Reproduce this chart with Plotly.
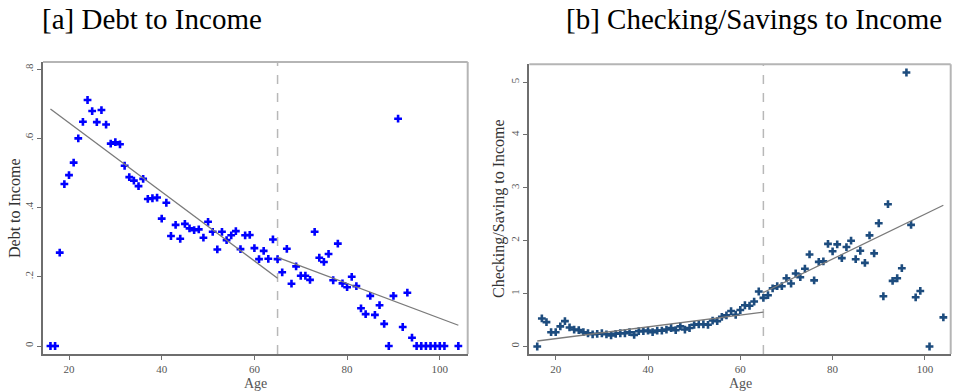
import plotly.graph_objects as go

# ---------------- data ----------------
debt_age = [16, 17, 18, 19, 20, 21, 22, 23, 24, 25, 26, 27, 28, 29, 30, 31, 32, 33, 34, 35,
            36, 37, 38, 39, 40, 41, 42, 43, 44, 45, 46, 47, 48, 49, 50, 51, 52, 53, 54, 55,
            56, 57, 58, 59, 60, 61, 62, 63, 64, 65, 66, 67, 68, 69, 70, 71, 72, 73, 74, 75,
            76, 77, 78, 79, 80, 81, 82, 83, 84, 85, 86, 87, 88, 89, 90, 91, 92, 93, 94, 95,
            96, 97, 98, 99, 100, 101, 104]
debt_val = [0.0, 0.0, 0.27, 0.468, 0.494, 0.53, 0.60, 0.648, 0.711, 0.679, 0.647, 0.682, 0.64,
            0.585, 0.589, 0.583, 0.521, 0.488, 0.478, 0.462, 0.483, 0.425, 0.427, 0.429, 0.368,
            0.414, 0.318, 0.350, 0.31, 0.353, 0.340, 0.335, 0.337, 0.313, 0.359, 0.33, 0.279,
            0.33, 0.306, 0.32, 0.332, 0.28, 0.32, 0.321, 0.283, 0.251, 0.275, 0.252, 0.308,
            0.251, 0.213, 0.281, 0.18, 0.23, 0.203, 0.203, 0.191, 0.33, 0.255, 0.243, 0.266,
            0.19, 0.296, 0.181, 0.17, 0.2, 0.173, 0.109, 0.092, 0.145, 0.09, 0.118, 0.064, 0.0,
            0.145, 0.657, 0.055, 0.154, 0.024, 0.0, 0.0, 0.0, 0.0, 0.0, 0.0, 0.0, 0.0]
debt_fit_pre_age = [16, 65]
debt_fit_pre_val = [0.685, 0.196]
debt_fit_post_age = [65, 104]
debt_fit_post_val = [0.256, 0.06]

cs_age = list(range(16, 100)) + [101, 104]
cs_val = [0.0, 0.53, 0.46, 0.27, 0.27, 0.38, 0.48, 0.36, 0.32, 0.31, 0.27, 0.25, 0.23, 0.24,
          0.25, 0.23, 0.21, 0.24, 0.25, 0.25, 0.27, 0.22, 0.29, 0.29, 0.30, 0.27, 0.30, 0.30,
          0.32, 0.35, 0.31, 0.38, 0.32, 0.35, 0.41, 0.42, 0.42, 0.41, 0.49, 0.48, 0.56, 0.59,
          0.67, 0.60, 0.69, 0.78, 0.77, 0.85, 1.04, 0.92, 0.97, 1.10, 1.14, 1.14, 1.29, 1.19,
          1.38, 1.31, 1.47, 1.74, 1.25, 1.60, 1.61, 1.94, 1.80, 1.93, 1.67, 1.88, 2.00, 1.65,
          1.81, 1.58, 2.10, 1.76, 2.33, 0.95, 2.69, 1.24, 1.29, 1.48, 5.18, 2.30, 0.93, 1.05,
          0.0, 0.55]
cs_fit_pre_age = [16, 65]
cs_fit_pre_val = [0.104, 0.65]
cs_fit_post_age = [65, 104]
cs_fit_post_val = [1.02, 2.67]

cutoff_age = 65
x_ticks = [20, 40, 60, 80, 100]
debt_ticks = [0, 0.2, 0.4, 0.6, 0.8]
debt_tick_text = ["0", ".2", ".4", ".6", ".8"]
cs_ticks = [0, 1, 2, 3, 4, 5]
cs_tick_text = ["0", "1", "2", "3", "4", "5"]

titles = ["[a] Debt to Income", "[b] Checking/Savings to Income"]
ytitles = ["Debt to Income", "Checking/Saving to Income"]
xtitle = "Age"

# ---------------- figure ----------------
W, H = 953, 391
SERIF = "Liberation Serif, Times New Roman, serif"
fig = go.Figure()

fit_line = dict(color="#7a7a7a", width=1.3)

fig.add_trace(go.Scatter(x=debt_age, y=debt_val, mode="markers", xaxis="x", yaxis="y",
                         marker=dict(symbol="cross", size=6.5, color="#0000ff", line=dict(width=0)),
                         showlegend=False))
fig.add_trace(go.Scatter(x=debt_fit_pre_age, y=debt_fit_pre_val, mode="lines", xaxis="x", yaxis="y",
                         line=fit_line, showlegend=False))
fig.add_trace(go.Scatter(x=debt_fit_post_age, y=debt_fit_post_val, mode="lines", xaxis="x", yaxis="y",
                         line=fit_line, showlegend=False))

fig.add_trace(go.Scatter(x=cs_age, y=cs_val, mode="markers", xaxis="x2", yaxis="y2",
                         marker=dict(symbol="cross", size=6.5, color="#1d4c7e", line=dict(width=0)),
                         showlegend=False))
fig.add_trace(go.Scatter(x=cs_fit_pre_age, y=cs_fit_pre_val, mode="lines", xaxis="x2", yaxis="y2",
                         line=fit_line, showlegend=False))
fig.add_trace(go.Scatter(x=cs_fit_post_age, y=cs_fit_post_val, mode="lines", xaxis="x2", yaxis="y2",
                         line=fit_line, showlegend=False))

def px_x(p):
    return p / W

def px_y(p):
    return 1 - p / H

axis_common = dict(showgrid=False, zeroline=False, showline=True, linecolor="#6e6e6e", linewidth=2,
                   ticks="outside", ticklen=4, tickcolor="#6e6e6e", tickwidth=1, automargin=False,
                   tickfont=dict(family=SERIF, size=11, color="#555555"))

fig.update_layout(
    width=W, height=H, margin=dict(l=0, r=0, t=0, b=0, autoexpand=False),
    paper_bgcolor="white", plot_bgcolor="white",
    xaxis=dict(domain=[px_x(43), px_x(467.7)], range=[14.39, 106.02], anchor="y",
               tickvals=x_ticks, **axis_common),
    yaxis=dict(domain=[px_y(354), px_y(62)], range=[-0.0231, 0.8208], anchor="x",
               tickvals=debt_ticks, ticktext=debt_tick_text, tickangle=-90, **axis_common),
    xaxis2=dict(domain=[px_x(529.3), px_x(950.7)], range=[14.28, 105.59], anchor="y2",
                tickvals=x_ticks, **axis_common),
    yaxis2=dict(domain=[px_y(354), px_y(64.3)], range=[-0.142, 5.335], anchor="x2",
                tickvals=cs_ticks, ticktext=cs_tick_text, tickangle=-90, **axis_common),
)

# frame (lighter top/right) and cutoff lines
for xr, yr in (("x", "y"), ("x2", "y2")):
    fig.add_shape(type="line", xref=f"{xr} domain", yref=f"{yr} domain", x0=0, x1=1, y0=1, y1=1,
                  line=dict(color="#b5b5b5", width=2))
    fig.add_shape(type="line", xref=f"{xr} domain", yref=f"{yr} domain", x0=1, x1=1, y0=0, y1=1,
                  line=dict(color="#b5b5b5", width=2))
    fig.add_shape(type="line", xref=xr, yref=f"{yr} domain", x0=cutoff_age, x1=cutoff_age, y0=0, y1=1,
                  line=dict(color="#b8b8b8", width=1.5, dash="dash"), layer="below")

def label(text, x, y, size, color, angle=0):
    fig.add_annotation(text=text, x=px_x(x), y=px_y(y), xref="paper", yref="paper",
                       xanchor="center", yanchor="middle", showarrow=False, textangle=angle,
                       font=dict(family=SERIF, size=size, color=color))

# titles
label(titles[0], 152, 19, 29, "#000000")
label(titles[1], 754, 19, 29, "#000000")
# axis titles
label(xtitle, 255, 383, 14, "#555555")
label(xtitle, 740, 383, 14, "#555555")
label(ytitles[0], 14, 208, 16, "#333333", -90)
label(ytitles[1], 499, 209, 16, "#333333", -90)

fig.write_html("out.html", config={"displayModeBar": False},
               post_script="document.body.style.margin='0px';document.body.style.overflow='hidden';")
